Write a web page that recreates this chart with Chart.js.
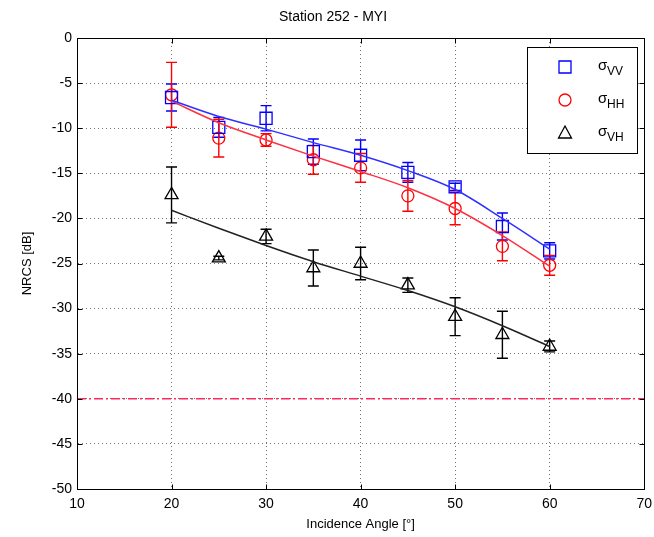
<!DOCTYPE html>
<html>
<head>
<meta charset="utf-8">
<script src="https://cdn.jsdelivr.net/npm/chart.js@4"></script>
<style>
  html, body { margin: 0; padding: 0; background: #fff; }
</style>
</head>
<body>
<canvas id="grafico" width="654" height="537"></canvas>
<script>
// ángulos de incidencia medidos
const angles = [20, 25, 30, 35, 40, 45, 50, 55, 60];

// NRCS medido (dB) y media anchura de la barra de error
const sigmaVV = [-6.6, -9.9, -8.9, -12.6, -13.0, -14.9, -16.5, -20.9, -23.6];
const errVV   = [1.5, 1.1, 1.4, 1.4, 1.7, 1.1, 0.4, 1.5, 0.9];
const sigmaHH = [-6.3, -11.1, -11.3, -13.5, -14.4, -17.5, -18.9, -23.1, -25.2];
const errHH   = [3.6, 2.1, 0.7, 1.6, 1.6, 1.7, 1.8, 1.6, 1.1];
const sigmaVH = [-17.4, -24.4, -22.0, -25.5, -25.0, -27.4, -30.9, -32.9, -34.2];
const errVH   = [3.1, 0.2, 0.8, 2.0, 1.8, 0.8, 2.1, 2.6, 0.6];

// curvas ajustadas
const fitVV = [-6.9, -8.7, -10.1, -11.6, -13.0, -14.7, -16.8, -20.0, -23.4];
const fitHH = [-7.0, -9.4, -11.3, -13.1, -14.8, -16.6, -18.9, -21.9, -25.3];
const fitVH = [-19.1, -21.1, -23.0, -24.8, -26.4, -28.0, -29.8, -31.9, -34.2];

// nivel de ruido
const noiseX = [10, 70];
const noiseY = [-40, -40];

const xTicks = [10, 20, 30, 40, 50, 60, 70];
const yTicks = [0, -5, -10, -15, -20, -25, -30, -35, -40, -45, -50];

const titulo = "Station 252 - MYI";
const FONT = "'Liberation Sans', Arial, sans-serif";

const pts = (xs, ys) => xs.map((x, i) => ({ x: x, y: ys[i] }));

// Barras de error
const errorBars = {
    id: "errorBars",
    beforeDatasetsDraw(chart) {
        const { ctx, scales: { x, y } } = chart;
        chart.data.datasets.forEach(ds => {
            if (!ds.errors) return;
            ctx.save();
            ctx.strokeStyle = ds.borderColor;
            ctx.lineWidth = 1.4;
            ds.data.forEach((p, i) => {
                const px = x.getPixelForValue(p.x);
                const top = y.getPixelForValue(p.y + ds.errors[i]);
                const bot = y.getPixelForValue(p.y - ds.errors[i]);
                ctx.beginPath();
                ctx.moveTo(px, top); ctx.lineTo(px, bot);
                ctx.moveTo(px - 5.5, top); ctx.lineTo(px + 5.5, top);
                ctx.moveTo(px - 5.5, bot); ctx.lineTo(px + 5.5, bot);
                ctx.stroke();
            });
            ctx.restore();
        });
    }
};

// Marco, marcas hacia dentro, título y leyenda estilo MATLAB
const marco = {
    id: "marco",
    afterDraw(chart) {
        const { ctx, chartArea: a, scales: { x, y } } = chart;
        const L = Math.round(a.left) + 0.5, R = Math.round(a.right) + 0.5;
        const T = Math.round(a.top) + 0.5, B = Math.round(a.bottom) + 0.5;
        ctx.save();
        ctx.strokeStyle = "#000";
        ctx.lineWidth = 1;
        ctx.strokeRect(L, T, R - L, B - T);
        ctx.beginPath();
        xTicks.forEach(v => {
            const px = Math.round(x.getPixelForValue(v)) + 0.5;
            ctx.moveTo(px, B); ctx.lineTo(px, B - 5);
            ctx.moveTo(px, T); ctx.lineTo(px, T + 5);
        });
        yTicks.forEach(v => {
            const py = Math.round(y.getPixelForValue(v)) + 0.5;
            ctx.moveTo(L, py); ctx.lineTo(L + 5, py);
            ctx.moveTo(R, py); ctx.lineTo(R - 5, py);
        });
        ctx.stroke();

        // título
        ctx.fillStyle = "#000";
        ctx.font = "14px " + FONT;
        ctx.textAlign = "center";
        ctx.textBaseline = "middle";
        ctx.fillText(titulo, 333, 17);

        // leyenda
        const bx = Math.round(a.right) - 117, by = Math.round(a.top) + 9, bw = 110, bh = 106;
        ctx.fillStyle = "#fff";
        ctx.fillRect(bx, by, bw, bh);
        ctx.strokeRect(bx + 0.5, by + 0.5, bw, bh);
        const items = [
            { sub: "VV", color: "#0000ff", style: "rect" },
            { sub: "HH", color: "#ff0000", style: "circle" },
            { sub: "VH", color: "#000000", style: "triangle" }
        ];
        items.forEach((it, i) => {
            const cy = by + 20 + i * 33;
            const cx = bx + 38;
            ctx.strokeStyle = it.color;
            ctx.lineWidth = 1.3;
            ctx.beginPath();
            if (it.style === "rect") {
                ctx.rect(cx - 6, cy - 6, 12, 12);
            } else if (it.style === "circle") {
                ctx.arc(cx, cy, 6, 0, Math.PI * 2);
            } else {
                ctx.moveTo(cx, cy - 7);
                ctx.lineTo(cx + 6.5, cy + 5);
                ctx.lineTo(cx - 6.5, cy + 5);
                ctx.closePath();
            }
            ctx.stroke();
            ctx.fillStyle = "#000";
            ctx.textBaseline = "alphabetic";
            ctx.textAlign = "left";
            ctx.font = "15px " + FONT;
            ctx.fillText("σ", bx + 71, cy + 3);
            ctx.font = "12px " + FONT;
            ctx.fillText(it.sub, bx + 80, cy + 8);
        });
        ctx.restore();
    }
};

const ctx = document.getElementById("grafico").getContext("2d");

new Chart(ctx, {
    type: "scatter",
    data: {
        datasets: [
            {
                label: "noise",
                type: "line",
                data: pts(noiseX, noiseY),
                borderColor: "#ff2a5a",
                borderWidth: 1.5,
                borderDash: [9, 3, 2, 3],
                pointRadius: 0,
                fill: false
            },
            {
                label: "fit VV",
                type: "line",
                data: pts(angles, fitVV),
                borderColor: "#3030ff",
                borderWidth: 1.5,
                pointRadius: 0,
                cubicInterpolationMode: "monotone",
                fill: false
            },
            {
                label: "fit HH",
                type: "line",
                data: pts(angles, fitHH),
                borderColor: "#ff3040",
                borderWidth: 1.5,
                pointRadius: 0,
                cubicInterpolationMode: "monotone",
                fill: false
            },
            {
                label: "fit VH",
                type: "line",
                data: pts(angles, fitVH),
                borderColor: "#222",
                borderWidth: 1.5,
                pointRadius: 0,
                cubicInterpolationMode: "monotone",
                fill: false
            },
            {
                label: "σVV",
                data: pts(angles, sigmaVV),
                errors: errVV,
                borderColor: "#0000ff",
                backgroundColor: "rgba(0,0,0,0)",
                pointStyle: "rect",
                pointRadius: 8.5,
                pointBorderWidth: 1.3
            },
            {
                label: "σHH",
                data: pts(angles, sigmaHH),
                errors: errHH,
                borderColor: "#ff0000",
                backgroundColor: "rgba(0,0,0,0)",
                pointStyle: "circle",
                pointRadius: 6,
                pointBorderWidth: 1.3
            },
            {
                label: "σVH",
                data: pts(angles, sigmaVH),
                errors: errVH,
                borderColor: "#000000",
                backgroundColor: "rgba(0,0,0,0)",
                pointStyle: "triangle",
                pointRadius: 7.5,
                pointBorderWidth: 1.3
            }
        ]
    },
    options: {
        responsive: false,
        animation: false,
        layout: { padding: { left: 0, right: 9, top: 38, bottom: 0 } },
        plugins: {
            legend: { display: false },
            tooltip: { enabled: false },
            title: { display: false }
        },
        scales: {
            x: {
                type: "linear",
                min: 10,
                max: 70,
                afterFit: s => { s.height = 48; s.paddingRight = 0; s.paddingLeft = 0; },
                afterBuildTicks: s => { s.ticks = xTicks.map(v => ({ value: v })); },
                ticks: {
                    color: "#000",
                    padding: 7,
                    maxRotation: 0,
                    font: { family: FONT, size: 14 }
                },
                grid: {
                    color: "rgba(0,0,0,0.55)",
                    drawTicks: false
                },
                border: { color: "#000", width: 1, dash: [1, 3] },
                title: {
                    display: true,
                    text: "Incidence Angle [°]",
                    color: "#000",
                    font: { family: FONT, size: 13 },
                    padding: { top: 0, bottom: 5 }
                }
            },
            y: {
                type: "linear",
                min: -50,
                max: 0,
                afterFit: s => { s.width = 77; s.paddingTop = 0; s.paddingBottom = 0; },
                afterBuildTicks: s => { s.ticks = yTicks.map(v => ({ value: v })); },
                ticks: {
                    color: "#000",
                    padding: 5,
                    font: { family: FONT, size: 14 }
                },
                grid: {
                    color: "rgba(0,0,0,0.55)",
                    drawTicks: false
                },
                border: { color: "#000", width: 1, dash: [1, 3] },
                title: {
                    display: true,
                    text: "NRCS [dB]",
                    color: "#000",
                    font: { family: FONT, size: 13 },
                    padding: { top: 20, bottom: 0 }
                }
            }
        }
    },
    plugins: [errorBars, marco]
});
</script>
</body>
</html>
